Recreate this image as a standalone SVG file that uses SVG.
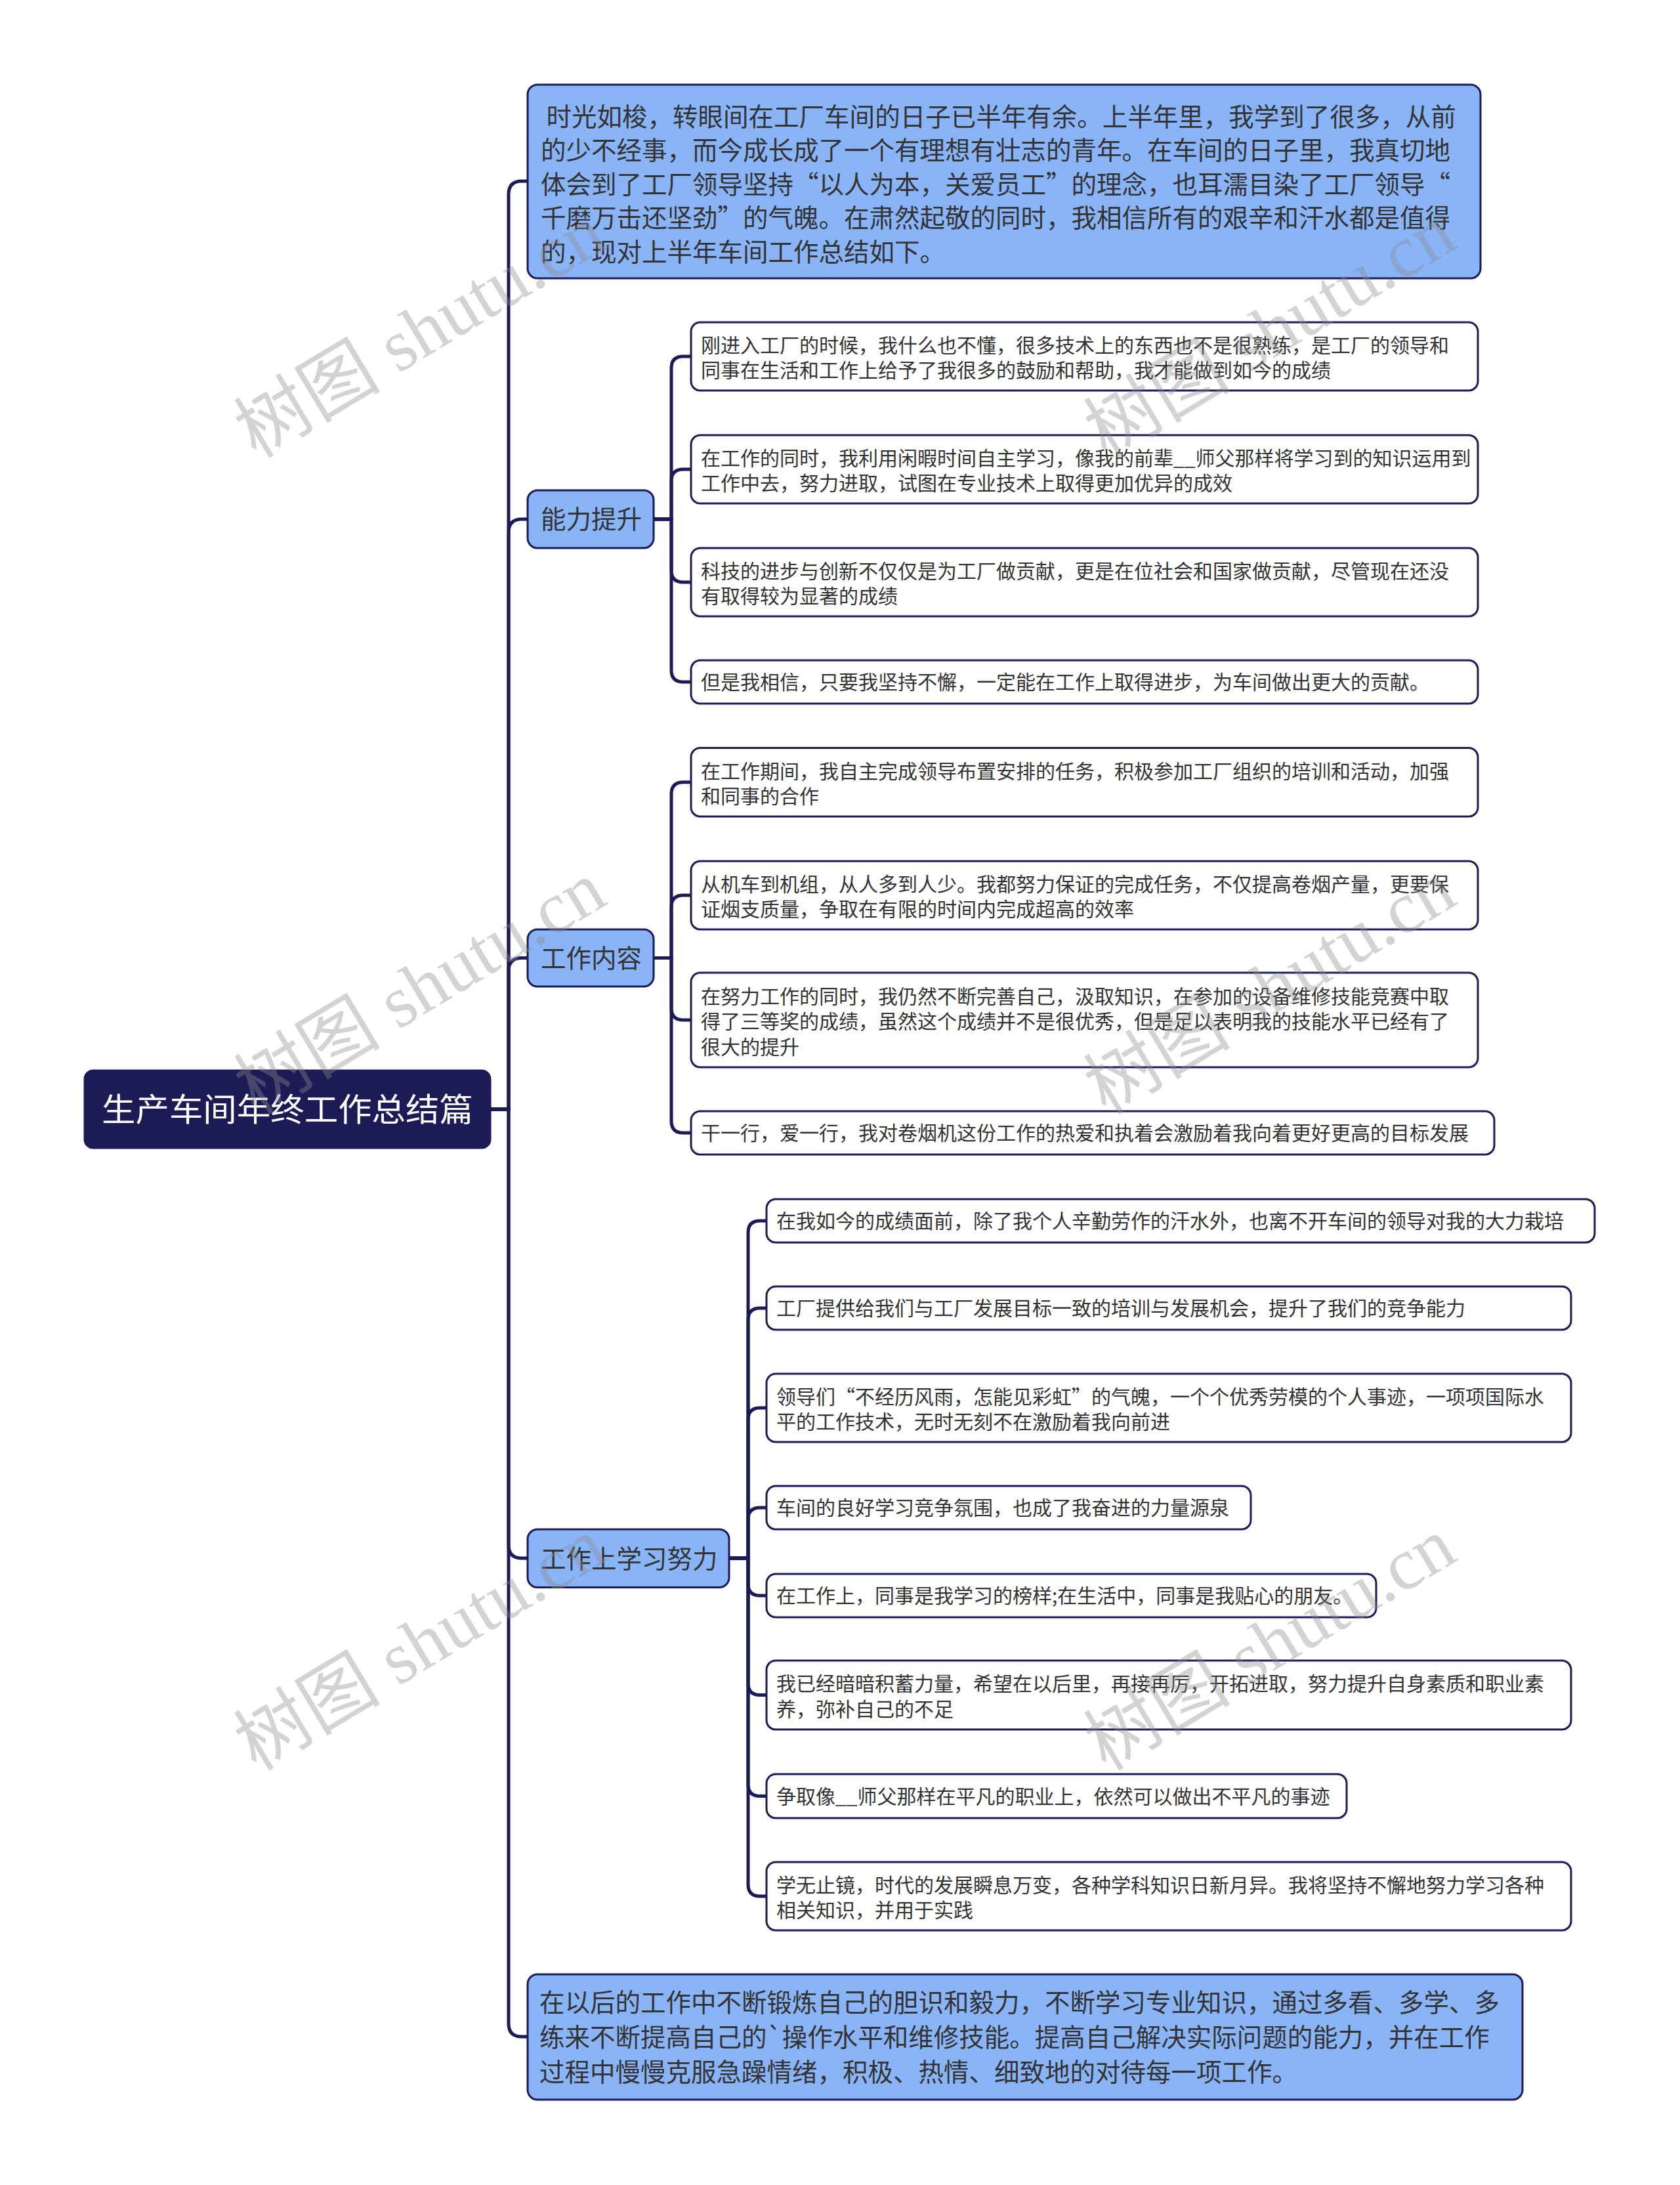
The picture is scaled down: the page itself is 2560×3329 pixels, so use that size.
<svg xmlns="http://www.w3.org/2000/svg" width="2560" height="3329" viewBox="0 0 2560 3329">
<style>
.bg{fill:#ffffff}
.edge{fill:none;stroke:#1d1b56;stroke-width:5;stroke-linecap:round}
.root rect{fill:#1d1b56;stroke:#1d1b56;stroke-width:3}
.root text{fill:#ffffff;font-family:"Noto Sans CJK SC","Liberation Sans",sans-serif;font-size:49px}
.l1 rect{fill:#8ab4f8;stroke:#1d1b56;stroke-width:3}
.l1 text{fill:#333333;font-family:"Noto Sans CJK SC","Liberation Sans",sans-serif;font-size:38.5px}
.leaf rect{fill:#ffffff;stroke:#1d1b56;stroke-width:3}
.leaf text{fill:#333333;font-family:"Noto Sans CJK SC","Liberation Sans",sans-serif;font-size:30px}
.wm text{fill:#8c8c8c;fill-opacity:0.38;font-family:"Liberation Serif","Noto Sans CJK SC",serif;font-size:112px;text-anchor:middle}
</style>
<rect class="bg" x="0" y="0" width="2560" height="3329"/>

<g id="connectors">
<path class="edge" d="M747 1690 H775 V296 Q775 276 795 276 H803"/>
<path class="edge" d="M747 1690 H775 V811 Q775 791 795 791 H803"/>
<path class="edge" d="M747 1690 H775 V1479.5 Q775 1459.5 795 1459.5 H803"/>
<path class="edge" d="M747 1690 H775 V2354 Q775 2374 795 2374 H803"/>
<path class="edge" d="M747 1690 H775 V3083 Q775 3103 795 3103 H803"/>

<path class="edge" d="M996 791 H1023 V561 Q1023 543 1041 543 H1053"/>
<path class="edge" d="M996 791 H1023 V733 Q1023 715 1041 715 H1053"/>
<path class="edge" d="M996 791 H1023 V869 Q1023 887 1041 887 H1053"/>
<path class="edge" d="M996 791 H1023 V1021 Q1023 1039 1041 1039 H1053"/>

<path class="edge" d="M996 1459.5 H1023 V1209.75 Q1023 1191.75 1041 1191.75 H1053"/>
<path class="edge" d="M996 1459.5 H1023 V1382 Q1023 1364 1041 1364 H1053"/>
<path class="edge" d="M996 1459.5 H1023 V1536 Q1023 1554 1041 1554 H1053"/>
<path class="edge" d="M996 1459.5 H1023 V1708 Q1023 1726 1041 1726 H1053"/>

<path class="edge" d="M1112 2374 H1140 V1878 Q1140 1860 1158 1860 H1168"/>
<path class="edge" d="M1112 2374 H1140 V2011 Q1140 1993 1158 1993 H1168"/>
<path class="edge" d="M1112 2374 H1140 V2163 Q1140 2145 1158 2145 H1168"/>
<path class="edge" d="M1112 2374 H1140 V2315 Q1140 2297 1158 2297 H1168"/>
<path class="edge" d="M1112 2374 H1140 V2413 Q1140 2431 1158 2431 H1168"/>
<path class="edge" d="M1112 2374 H1140 V2564.5 Q1140 2582.5 1158 2582.5 H1168"/>
<path class="edge" d="M1112 2374 H1140 V2718.5 Q1140 2736.5 1158 2736.5 H1168"/>
<path class="edge" d="M1112 2374 H1140 V2871 Q1140 2889 1158 2889 H1168"/>
</g>

<g id="root" class="root">
<rect x="129" y="1631" width="618" height="118" rx="13"/>
<text x="155" y="1708" textLength="566" lengthAdjust="spacingAndGlyphs">生产车间年终工作总结篇</text>
</g>

<g id="intro" class="l1">
<rect x="804" y="129" width="1452" height="295" rx="15"/>
<text xml:space="preserve" x="824" y="192"> 时光如梭，转眼间在工厂车间的日子已半年有余。上半年里，我学到了很多，从前</text>
<text x="824" y="243.4">的少不经事，而今成长成了一个有理想有壮志的青年。在车间的日子里，我真切地</text>
<text x="824" y="294.8">体会到了工厂领导坚持“以人为本，关爱员工”的理念，也耳濡目染了工厂领导“</text>
<text x="824" y="346.2">千磨万击还坚劲”的气魄。在肃然起敬的同时，我相信所有的艰辛和汗水都是值得</text>
<text x="824" y="397.6">的，现对上半年车间工作总结如下。</text>
</g>

<g id="nengli" class="l1">
<rect x="804" y="747" width="192" height="88" rx="15"/>
<text x="824" y="805">能力提升</text>
</g>
<g id="nengli-1" class="leaf">
<rect x="1053" y="491" width="1199" height="104" rx="14"/>
<text x="1068" y="536.9">刚进入工厂的时候，我什么也不懂，很多技术上的东西也不是很熟练，是工厂的领导和</text>
<text x="1068" y="575.4">同事在生活和工作上给予了我很多的鼓励和帮助，我才能做到如今的成绩</text>
</g>
<g id="nengli-2" class="leaf">
<rect x="1053" y="663" width="1199" height="104" rx="14"/>
<text x="1068" y="708.9">在工作的同时，我利用闲暇时间自主学习，像我的前辈__师父那样将学习到的知识运用到</text>
<text x="1068" y="747.4">工作中去，努力进取，试图在专业技术上取得更加优异的成效</text>
</g>
<g id="nengli-3" class="leaf">
<rect x="1053" y="835" width="1199" height="104" rx="14"/>
<text x="1068" y="880.9">科技的进步与创新不仅仅是为工厂做贡献，更是在位社会和国家做贡献，尽管现在还没</text>
<text x="1068" y="919.4">有取得较为显著的成绩</text>
</g>
<g id="nengli-4" class="leaf">
<rect x="1053" y="1006" width="1199" height="66" rx="14"/>
<text x="1068" y="1050">但是我相信，只要我坚持不懈，一定能在工作上取得进步，为车间做出更大的贡献。</text>
</g>

<g id="neirong" class="l1">
<rect x="804" y="1416" width="192" height="87" rx="15"/>
<text x="824" y="1474">工作内容</text>
</g>
<g id="neirong-1" class="leaf">
<rect x="1053" y="1139.5" width="1199" height="104.5" rx="14"/>
<text x="1068" y="1185.6">在工作期间，我自主完成领导布置安排的任务，积极参加工厂组织的培训和活动，加强</text>
<text x="1068" y="1224.1">和同事的合作</text>
</g>
<g id="neirong-2" class="leaf">
<rect x="1053" y="1312" width="1199" height="104" rx="14"/>
<text x="1068" y="1357.9">从机车到机组，从人多到人少。我都努力保证的完成任务，不仅提高卷烟产量，更要保</text>
<text x="1068" y="1396.4">证烟支质量，争取在有限的时间内完成超高的效率</text>
</g>
<g id="neirong-3" class="leaf">
<rect x="1053" y="1482" width="1199" height="144" rx="14"/>
<text x="1068" y="1528.6">在努力工作的同时，我仍然不断完善自己，汲取知识，在参加的设备维修技能竞赛中取</text>
<text x="1068" y="1567.1">得了三等奖的成绩，虽然这个成绩并不是很优秀，但是足以表明我的技能水平已经有了</text>
<text x="1068" y="1605.6">很大的提升</text>
</g>
<g id="neirong-4" class="leaf">
<rect x="1053" y="1693" width="1224" height="66" rx="14"/>
<text x="1068" y="1737">干一行，爱一行，我对卷烟机这份工作的热爱和执着会激励着我向着更好更高的目标发展</text>
</g>

<g id="xuexi" class="l1">
<rect x="804" y="2330" width="307" height="88.5" rx="15"/>
<text x="824" y="2389">工作上学习努力</text>
</g>
<g id="xuexi-1" class="leaf">
<rect x="1168" y="1827" width="1262" height="66" rx="14"/>
<text x="1183" y="1871">在我如今的成绩面前，除了我个人辛勤劳作的汗水外，也离不开车间的领导对我的大力栽培</text>
</g>
<g id="xuexi-2" class="leaf">
<rect x="1168" y="1960" width="1226" height="66" rx="14"/>
<text x="1183" y="2004">工厂提供给我们与工厂发展目标一致的培训与发展机会，提升了我们的竞争能力</text>
</g>
<g id="xuexi-3" class="leaf">
<rect x="1168" y="2093" width="1226" height="104" rx="14"/>
<text x="1183" y="2138.9">领导们“不经历风雨，怎能见彩虹”的气魄，一个个优秀劳模的个人事迹，一项项国际水</text>
<text x="1183" y="2177.4">平的工作技术，无时无刻不在激励着我向前进</text>
</g>
<g id="xuexi-4" class="leaf">
<rect x="1168" y="2264" width="738" height="66" rx="14"/>
<text x="1183" y="2308">车间的良好学习竞争氛围，也成了我奋进的力量源泉</text>
</g>
<g id="xuexi-5" class="leaf">
<rect x="1168" y="2398" width="929" height="66" rx="14"/>
<text x="1183" y="2442">在工作上，同事是我学习的榜样;在生活中，同事是我贴心的朋友。</text>
</g>
<g id="xuexi-6" class="leaf">
<rect x="1168" y="2530" width="1226" height="105" rx="14"/>
<text x="1183" y="2576.4">我已经暗暗积蓄力量，希望在以后里，再接再厉，开拓进取，努力提升自身素质和职业素</text>
<text x="1183" y="2614.9">养，弥补自己的不足</text>
</g>
<g id="xuexi-7" class="leaf">
<rect x="1168" y="2703" width="884" height="67" rx="14"/>
<text x="1183" y="2747.5">争取像__师父那样在平凡的职业上，依然可以做出不平凡的事迹</text>
</g>
<g id="xuexi-8" class="leaf">
<rect x="1168" y="2837" width="1226" height="104" rx="14"/>
<text x="1183" y="2882.9">学无止镜，时代的发展瞬息万变，各种学科知识日新月异。我将坚持不懈地努力学习各种</text>
<text x="1183" y="2921.4">相关知识，并用于实践</text>
</g>

<g id="outro" class="l1">
<rect x="804" y="3008" width="1516" height="191" rx="15"/>
<text x="822" y="3065">在以后的工作中不断锻炼自己的胆识和毅力，不断学习专业知识，通过多看、多学、多</text>
<text x="822" y="3118">练来不断提高自己的`操作水平和维修技能。提高自己解决实际问题的能力，并在工作</text>
<text x="822" y="3171">过程中慢慢克服急躁情绪，积极、热情、细致地的对待每一项工作。</text>
</g>

<g id="watermarks" class="wm">
<text transform="translate(640 505) rotate(-31)" x="0" y="38">树图 shutu.cn</text>
<text transform="translate(1935 505) rotate(-31)" x="0" y="38">树图 shutu.cn</text>
<text transform="translate(640 1505) rotate(-31)" x="0" y="38">树图 shutu.cn</text>
<text transform="translate(1935 1505) rotate(-31)" x="0" y="38">树图 shutu.cn</text>
<text transform="translate(640 2505) rotate(-31)" x="0" y="38">树图 shutu.cn</text>
<text transform="translate(1935 2505) rotate(-31)" x="0" y="38">树图 shutu.cn</text>
</g>
</svg>
